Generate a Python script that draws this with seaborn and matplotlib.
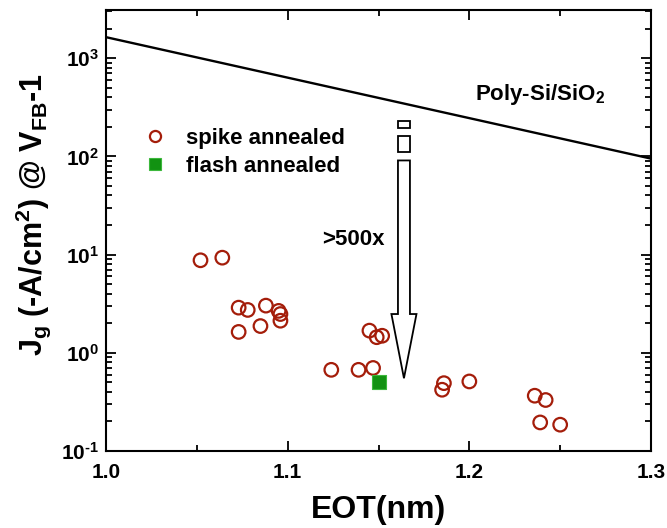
import numpy as np
import pandas as pd
import matplotlib
matplotlib.use("Agg")
import matplotlib.pyplot as plt
import seaborn as sns
from matplotlib.lines import Line2D
from matplotlib.ticker import MultipleLocator, LogLocator, NullFormatter, FuncFormatter

# spike annealed samples
spike_eot = [1.052, 1.064, 1.073, 1.078, 1.088, 1.095, 1.096, 1.096, 1.073, 1.085,
             1.124, 1.139, 1.147, 1.145, 1.149, 1.152, 1.186, 1.185, 1.200,
             1.236, 1.242, 1.239, 1.250]
spike_jg = [8.75, 9.3, 2.88, 2.73, 3.02, 2.67, 2.48, 2.12, 1.63, 1.87,
            0.67, 0.67, 0.70, 1.68, 1.44, 1.49, 0.49, 0.42, 0.51,
            0.365, 0.33, 0.195, 0.185]

# flash annealed sample
flash_eot = [1.150]
flash_jg = [0.50]

# Poly-Si/SiO2 reference line
ref_eot = [1.0, 1.3]
ref_jg = [1640, 95]

sns.set_style("ticks")
plt.rcParams["font.family"] = ["Liberation Sans", "DejaVu Sans"]
plt.rcParams["font.weight"] = "bold"
plt.rcParams["mathtext.fontset"] = "custom"
plt.rcParams["mathtext.rm"] = "Liberation Sans:bold"
plt.rcParams["mathtext.bf"] = "Liberation Sans:bold"
plt.rcParams["mathtext.it"] = "Liberation Sans:bold"
plt.rcParams["mathtext.default"] = "bf"
for key in ["text.color", "axes.labelcolor", "xtick.color", "ytick.color", "axes.edgecolor"]:
    plt.rcParams[key] = "black"

fig = plt.figure(figsize=(6.67, 5.28), dpi=100)
ax = fig.add_axes([0.159, 0.146, 0.817, 0.835])

spike = pd.DataFrame({"eot": spike_eot, "jg": spike_jg})
flash = pd.DataFrame({"eot": flash_eot, "jg": flash_jg})
ref = pd.DataFrame({"eot": ref_eot, "jg": ref_jg})

sns.lineplot(data=ref, x="eot", y="jg", ax=ax, color="black", lw=1.7)
sns.scatterplot(data=spike, x="eot", y="jg", ax=ax, marker="o", s=95,
                facecolor="none", edgecolor="#a41d0a", linewidth=1.6)
sns.scatterplot(data=flash, x="eot", y="jg", ax=ax, marker="s", s=95,
                color="#129212", edgecolor="#3cb83c", linewidth=0.8)

ax.set_yscale("log")
ax.set_xlim(1.0, 1.3)
ax.set_ylim(0.1, 3100)

# hollow arrow with two small boxes above it
xc = 1.164
hw, hh = 0.0033, 0.0069
arrow_x = [xc - hw, xc + hw, xc + hw, xc + hh, xc, xc - hh, xc - hw, xc - hw]
arrow_y = [91, 91, 2.48, 2.48, 0.55, 2.48, 2.48, 91]
ax.fill(arrow_x, arrow_y, facecolor="white", edgecolor="black", lw=1.3, zorder=3)
for y0, y1 in [(194, 230), (110, 160)]:
    ax.fill([xc - hw, xc + hw, xc + hw, xc - hw, xc - hw],
            [y0, y0, y1, y1, y0], facecolor="white", edgecolor="black", lw=1.3, zorder=3)

ax.text(1.119, 14.3, ">500x", fontsize=16, fontweight="bold", va="center", ha="left")
ax.text(1.203, 430, r"Poly-Si/SiO$_2$", fontsize=16, fontweight="bold", va="center", ha="left")

handles = [
    Line2D([], [], marker="o", ls="none", markerfacecolor="none",
           markeredgecolor="#a41d0a", markeredgewidth=1.6, markersize=8),
    Line2D([], [], marker="s", ls="none", markerfacecolor="#129212",
           markeredgecolor="#3cb83c", markeredgewidth=0.8, markersize=8),
]
ax.legend(handles, ["spike annealed", "flash annealed"], loc="upper left",
          bbox_to_anchor=(0.013, 0.778), frameon=False, handletextpad=0.4,
          labelspacing=0.3, prop={"size": 16, "weight": "bold"})


def log_label(v, pos):
    e = int(round(np.log10(v)))
    return r"10$^{\text{%d}}$" % e


ax.xaxis.set_major_locator(MultipleLocator(0.1))
ax.xaxis.set_minor_locator(MultipleLocator(0.05))
ax.xaxis.set_major_formatter(matplotlib.ticker.FormatStrFormatter("%.1f"))
ax.yaxis.set_major_locator(LogLocator(base=10, numticks=10))
ax.yaxis.set_major_formatter(FuncFormatter(log_label))
ax.yaxis.set_minor_locator(LogLocator(base=10, subs=np.arange(2, 10), numticks=10))
ax.yaxis.set_minor_formatter(NullFormatter())
ax.tick_params(which="both", direction="in", top=True, right=True, width=1.3)
ax.tick_params(which="major", length=7, labelsize=15)
ax.tick_params(axis="x", which="major", pad=9)
ax.tick_params(axis="y", which="major", pad=5)
ax.tick_params(which="minor", length=4)
for s in ax.spines.values():
    s.set_linewidth(1.5)

ax.set_xlabel("EOT(nm)", fontsize=23, fontweight="bold", labelpad=9)
ax.set_ylabel(r"J$_g$ (-A/cm$^2$) @ V$_{FB}$-1", fontsize=22, fontweight="bold")
ax.yaxis.set_label_coords(-0.097, 0.535)

fig.savefig("out.png", dpi=100)
